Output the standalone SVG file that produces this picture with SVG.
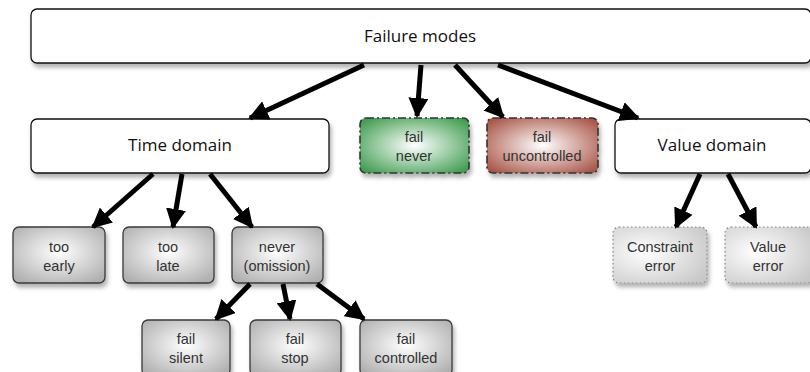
<svg xmlns="http://www.w3.org/2000/svg" width="810" height="372" viewBox="0 0 810 372">
<defs>
<filter id="sh" x="-10%" y="-20%" width="120%" height="150%">
<feDropShadow dx="2" dy="4" stdDeviation="2" flood-color="#000" flood-opacity="0.3"/>
</filter>
<radialGradient id="gGray" cx="50%" cy="45%" r="65%">
<stop offset="0" stop-color="#ffffff"/>
<stop offset="1" stop-color="#b0b0b0"/>
</radialGradient>
<radialGradient id="gGreen" cx="50%" cy="50%" r="65%">
<stop offset="0" stop-color="#ffffff"/>
<stop offset="1" stop-color="#3f9c4f"/>
</radialGradient>
<radialGradient id="gRed" cx="50%" cy="50%" r="65%">
<stop offset="0" stop-color="#ffffff"/>
<stop offset="1" stop-color="#a85446"/>
</radialGradient>
<radialGradient id="gLight" cx="35%" cy="45%" r="75%">
<stop offset="0" stop-color="#ffffff"/>
<stop offset="1" stop-color="#c8c8c8"/>
</radialGradient>
<marker id="ah" viewBox="0 0 10 10" refX="9" refY="5" markerWidth="4" markerHeight="4" orient="auto" markerUnits="strokeWidth">
<path d="M0,0 L10,5 L0,10 Z" fill="#000"/>
</marker>
<style>
.top{fill:#fff;stroke:#111;stroke-width:1.3;filter:url(#sh)}
.gray{fill:url(#gGray);stroke:#3a3a3a;stroke-width:1.3;filter:url(#sh)}
.green{fill:url(#gGreen);stroke:#333;stroke-width:1.6;stroke-dasharray:8 3 2 3;filter:url(#sh)}
.red{fill:url(#gRed);stroke:#333;stroke-width:1.6;stroke-dasharray:8 3 2 3;filter:url(#sh)}
.dot{fill:url(#gLight);stroke:#888;stroke-width:1.2;stroke-dasharray:1.5 2.5;filter:url(#sh)}
.t1{font-family:"Open Sans","Liberation Sans",sans-serif;font-size:17px;fill:#111;text-anchor:middle}
.t2{font-family:"Liberation Sans",Arial,sans-serif;font-size:14.5px;fill:#333;text-anchor:middle}
.ar line{stroke:#000;stroke-width:5;marker-end:url(#ah)}
</style>
</defs>

<g id="failure-modes">
<rect class="top" x="31" y="9" width="780" height="54" rx="6"/>
<text class="t1" x="420" y="42">Failure modes</text>
</g>
<g id="time-domain">
<rect class="top" x="31" y="119" width="298" height="54" rx="6"/>
<text class="t1" x="180" y="151">Time domain</text>
</g>
<g id="fail-never">
<rect class="green" x="360" y="118" width="109" height="55" rx="6"/>
<text class="t2" x="414" y="142">fail</text>
<text class="t2" x="414" y="161">never</text>
</g>
<g id="fail-uncontrolled">
<rect class="red" x="487" y="118" width="111" height="55" rx="6"/>
<text class="t2" x="542" y="142">fail</text>
<text class="t2" x="542" y="161">uncontrolled</text>
</g>
<g id="value-domain">
<rect class="top" x="615" y="119" width="196" height="54" rx="6"/>
<text class="t1" x="712" y="151">Value domain</text>
</g>
<g id="too-early">
<rect class="gray" x="13" y="227" width="92" height="56" rx="6"/>
<text class="t2" x="59" y="252">too</text>
<text class="t2" x="59" y="271">early</text>
</g>
<g id="too-late">
<rect class="gray" x="123" y="227" width="91" height="56" rx="6"/>
<text class="t2" x="168" y="252">too</text>
<text class="t2" x="168" y="271">late</text>
</g>
<g id="never-omission">
<rect class="gray" x="232" y="227" width="91" height="56" rx="6"/>
<text class="t2" x="277" y="252">never</text>
<text class="t2" x="277" y="271">(omission)</text>
</g>
<g id="fail-silent">
<rect class="gray" x="142" y="320" width="88" height="56" rx="6"/>
<text class="t2" x="186" y="344">fail</text>
<text class="t2" x="186" y="363">silent</text>
</g>
<g id="fail-stop">
<rect class="gray" x="250" y="320" width="91" height="56" rx="6"/>
<text class="t2" x="295" y="344">fail</text>
<text class="t2" x="295" y="363">stop</text>
</g>
<g id="fail-controlled">
<rect class="gray" x="360" y="320" width="92" height="56" rx="6"/>
<text class="t2" x="406" y="344">fail</text>
<text class="t2" x="406" y="363">controlled</text>
</g>
<g id="constraint-error">
<rect class="dot" x="613" y="227" width="94" height="56" rx="6"/>
<text class="t2" x="660" y="252">Constraint</text>
<text class="t2" x="660" y="271">error</text>
</g>
<g id="value-error">
<rect class="dot" x="725" y="227" width="88" height="56" rx="6"/>
<text class="t2" x="768" y="252">Value</text>
<text class="t2" x="768" y="271">error</text>
</g>

<g id="connectors" class="ar">
<line x1="364" y1="65" x2="250" y2="118"/>
<line x1="421" y1="65" x2="417" y2="116"/>
<line x1="455" y1="65" x2="503" y2="117"/>
<line x1="498" y1="65" x2="638" y2="118"/>
<line x1="153" y1="174" x2="93" y2="227"/>
<line x1="182" y1="174" x2="173" y2="227"/>
<line x1="210" y1="174" x2="252" y2="227"/>
<line x1="700" y1="174" x2="676" y2="227"/>
<line x1="728" y1="174" x2="756" y2="227"/>
<line x1="250" y1="284" x2="216" y2="319"/>
<line x1="283" y1="284" x2="290" y2="319"/>
<line x1="317" y1="284" x2="364" y2="319"/>
</g>
</svg>
